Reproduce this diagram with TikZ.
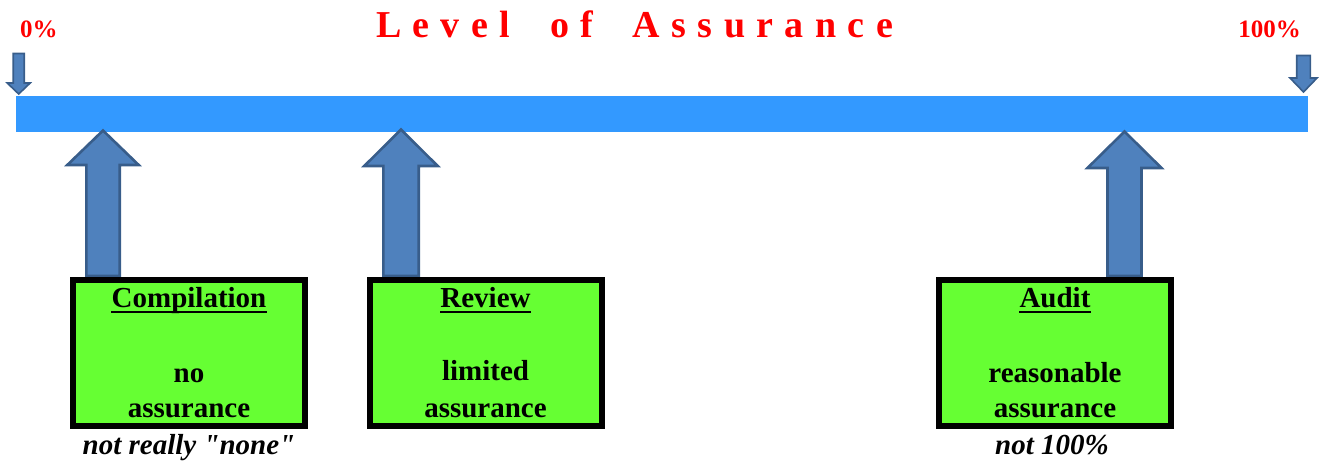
\documentclass[tikz,border=0pt]{standalone}
\usepackage{fontspec}
\setmainfont{Liberation Serif}
\newfontfamily\rawserif{Liberation Serif}
\definecolor{barblue}{HTML}{3399FF}
\definecolor{arrfill}{HTML}{4F81BD}
\definecolor{arrdraw}{HTML}{385D8A}
\definecolor{boxgreen}{HTML}{66FF33}
\definecolor{titlered}{HTML}{FF0000}
\newcommand\gapA{\hspace{0pt plus 1fill}}
\newcommand\gapB{\hspace{0pt plus 3.5fill}}
% block arrow pointing up: cx, tip y, head base y, bottom y, head half, shaft half
\newcommand\blockup[6]{%
  \draw[blockarr] (#1,#2) -- (#1-#5,#3) -- (#1-#6,#3) -- (#1-#6,#4) -- (#1+#6,#4) -- (#1+#6,#3) -- (#1+#5,#3) -- cycle;}
% block arrow pointing down: cx, top y, head base y, tip y, head half, shaft half
\newcommand\blockdown[6]{%
  \draw[smallarr] (#1-#6,#2) -- (#1+#6,#2) -- (#1+#6,#3) -- (#1+#5,#3) -- (#1,#4) -- (#1-#5,#3) -- (#1-#6,#3) -- cycle;}
\tikzset{
  bar/.style={fill=barblue, draw=none, inner sep=0pt, minimum width=1292, minimum height=36},
  blockarr/.style={fill=arrfill, draw=arrdraw, line width=2.6pt, line join=miter},
  smallarr/.style={fill=arrfill, draw=arrdraw, line width=1.6pt, line join=miter},
  gbox/.style={fill=boxgreen, draw=black, line width=6pt, minimum width=232, minimum height=146, inner sep=0pt},
  boxtxt/.style={inner sep=0pt, anchor=base, font=\fontsize{29}{35}\selectfont\bfseries},
  note/.style={inner sep=0pt, anchor=base, font=\rawserif\fontsize{29}{34}\selectfont\bfseries\itshape},
  pct/.style={inner sep=0pt, text=titlered, font=\fontsize{25}{30}\selectfont\bfseries},
  uline/.style={line width=2.5pt, draw=black}
}
\begin{document}
\begin{tikzpicture}[x=1pt,y=-1pt]
\useasboundingbox (0,0) rectangle (1323,464);
% title
\node[inner sep=0pt, anchor=base, text=titlered, font=\fontsize{38}{40}\selectfont\bfseries] (title) at (634.5,37)
  {\makebox[517pt][s]{L\gapA e\gapA v\gapA e\gapA l\gapB o\gapA f\gapB A\gapA s\gapA s\gapA u\gapA r\gapA a\gapA n\gapA c\gapA e}};
\node[pct, anchor=base west] (p0) at (20,37) {0\%};
\node[pct, anchor=base east] (p100) at (1301,37) {100\%};
% bar
\node[bar] (bar) at (662,114) {};
% small down arrows
\blockdown{18.7}{53.5}{83}{94}{11.5}{5.5}
\blockdown{1303.5}{55.5}{78}{92}{13.5}{6.8}
% up arrows
\blockup{103}{130.5}{165}{276}{35.7}{16.7}
\blockup{401}{129.5}{166}{276}{36.7}{17.7}
\blockup{1124.5}{131.5}{168}{276}{37}{17}
% boxes
\node[gbox] (comp) at (189,353) {};
\node[gbox] (rev) at (485.5,353) {};
\node[gbox] (aud) at (1055,353) {};
% box texts
\node[boxtxt] (compT) at (189,307) {Compilation};
\draw[uline] ([yshift=-5pt]compT.base west) -- ([yshift=-5pt]compT.base east);
\node[boxtxt] (compA) at (189,382) {no};
\node[boxtxt] (compB) at (189,417) {assurance};
\node[boxtxt] (revT) at (485.5,307) {Review};
\draw[uline] ([yshift=-5pt]revT.base west) -- ([yshift=-5pt]revT.base east);
\node[boxtxt] (revA) at (485.5,380) {limited};
\node[boxtxt] (revB) at (485.5,417) {assurance};
\node[boxtxt] (audT) at (1055,307) {Audit};
\draw[uline] ([yshift=-5pt]audT.base west) -- ([yshift=-5pt]audT.base east);
\node[boxtxt] (audA) at (1055,382) {reasonable};
\node[boxtxt] (audB) at (1055,417) {assurance};
% notes
\node[note] (n1) at (189,454) {not really "none"};
\node[note] (n2) at (1052,454) {not 100\%};
\end{tikzpicture}
\end{document}
